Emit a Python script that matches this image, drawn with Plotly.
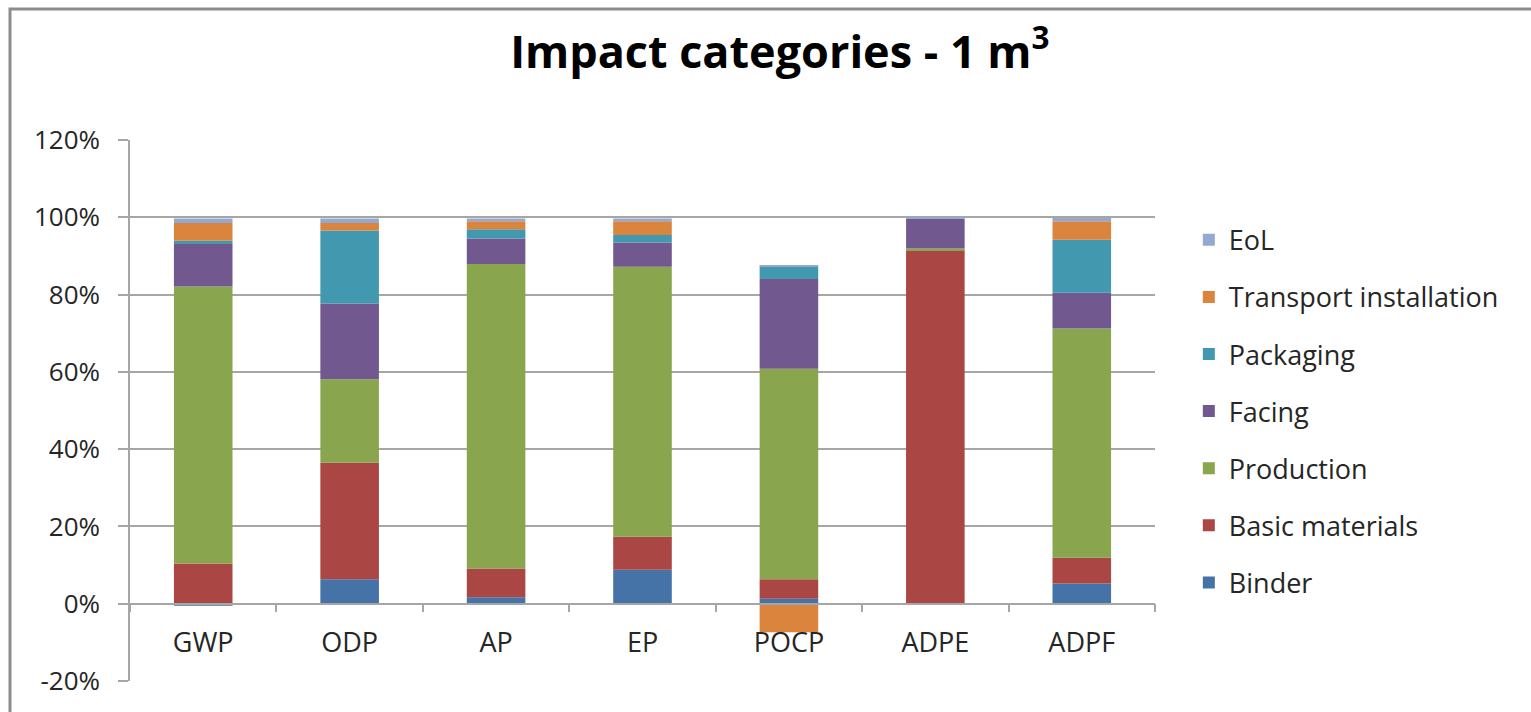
import plotly.graph_objects as go

# Impact categories (x axis)
categories = ["GWP", "ODP", "AP", "EP", "POCP", "ADPE", "ADPF"]

# Share of each life-cycle stage per impact category, in %
binder = [-0.5, 6.3, 1.7, 8.8, 1.3, 0.0, 5.2]
basic_materials = [10.4, 30.2, 7.4, 8.5, 5.0, 91.5, 6.7]
production = [71.7, 21.6, 78.8, 69.9, 54.5, 0.4, 59.3]
facing = [11.0, 19.6, 6.6, 6.3, 23.2, 7.8, 9.3]
packaging = [0.8, 18.9, 2.4, 1.9, 3.3, 0.0, 13.7]
transport_installation = [4.6, 1.9, 2.1, 3.6, -7.4, 0.0, 4.8]
eol = [1.2, 1.2, 0.7, 0.7, 0.3, 0.3, 0.8]

# y-axis ticks
y_ticks = [-20, 0, 20, 40, 60, 80, 100, 120]
y_tick_labels = ["-20%", "0%", "20%", "40%", "60%", "80%", "100%", "120%"]

series = [
    ("Binder", binder, "#4572A7"),
    ("Basic materials", basic_materials, "#AA4643"),
    ("Production", production, "#89A54E"),
    ("Facing", facing, "#71588F"),
    ("Packaging", packaging, "#4198AF"),
    ("Transport installation", transport_installation, "#DB843D"),
    ("EoL", eol, "#93A9CF"),
]

FONT = "Open Sans"
TEXT = "#262626"

fig = go.Figure()
for i, (name, values, color) in enumerate(series):
    fig.add_trace(go.Bar(
        x=categories, y=values, name=name, legendgroup=name,
        legendrank=len(series) - i,  # top of the stack first in the legend
        marker=dict(color=color, line=dict(width=0)),
    ))

# plot area geometry in pixels
W, H = 1531, 712
L, R, T, B = 130, 376, 140, 31

fig.update_layout(
    width=W, height=H,
    margin=dict(l=L, r=R, t=T, b=B),
    barmode="relative",
    bargap=0.6,
    paper_bgcolor="white",
    plot_bgcolor="white",
    font=dict(family=FONT, color=TEXT, size=26),
    title=dict(
        text="<b>Impact categories - 1 m<sup>3</sup></b>",
        font=dict(family=FONT, size=45, color="#000000"),
        x=0.634, xref="paper", xanchor="center",
        y=1 - 52 / H, yref="container", yanchor="middle",
    ),
    legend=dict(
        traceorder="grouped",
        tracegroupgap=19,
        x=1.033, xanchor="left",
        y=0.86, yanchor="top",
        font=dict(family=FONT, size=27, color=TEXT),
        bgcolor="rgba(0,0,0,0)",
    ),
    showlegend=True,
)

fig.update_yaxes(
    range=[-20, 120], tickvals=y_ticks, ticktext=y_tick_labels,
    showgrid=True, gridcolor="#a6a6a6", gridwidth=1.5,
    zeroline=False,
    showline=True, linecolor="#a6a6a6", linewidth=1.5,
    ticks="outside", ticklen=10, tickcolor="#a6a6a6", tickwidth=1.5,
    ticklabelstandoff=13,
    tickfont=dict(family=FONT, size=26, color=TEXT),
)

zero_pos = 20 / 140
fig.update_xaxes(
    anchor="free", position=zero_pos,
    showline=True, linecolor="#a6a6a6", linewidth=1.5,
    ticks="outside", tickson="boundaries", ticklen=8,
    tickcolor="#a6a6a6", tickwidth=1.5,
    showgrid=False,
    ticklabelstandoff=15,
    tickfont=dict(family=FONT, size=27, color=TEXT),
)

# chart frame
pw = W - L - R
ph = H - T - B
fig.add_shape(
    type="rect", xref="paper", yref="paper",
    x0=(10 - L) / pw, x1=(W + 20 - L) / pw,
    y0=-(B + 20) / ph, y1=(H - B - 9) / ph,
    line=dict(color="#8c8c8c", width=3),
    fillcolor="rgba(0,0,0,0)", layer="below",
)

fig.write_html("out.html")
